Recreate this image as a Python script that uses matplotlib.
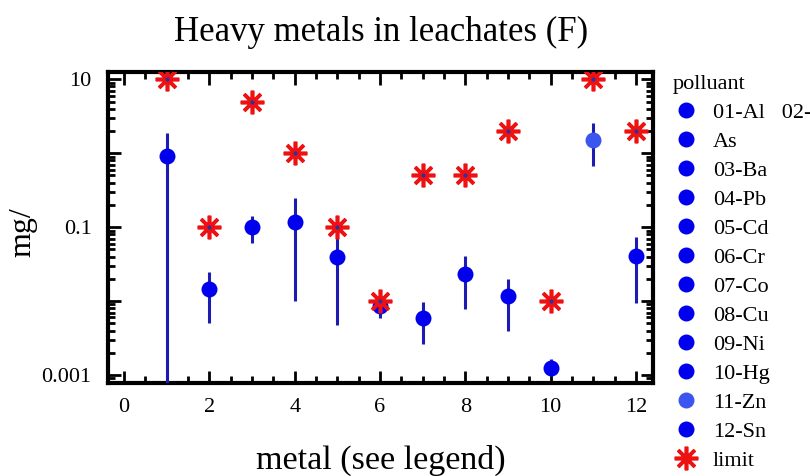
"""Heavy metals in leachates (F) - log scatter with error bars and limits."""
import numpy as np
import matplotlib
matplotlib.use("Agg")
import matplotlib.pyplot as plt
from matplotlib.lines import Line2D
from matplotlib.ticker import LogLocator, MultipleLocator, FixedLocator, NullFormatter

plt.rcParams["font.family"] = ["Liberation Serif", "DejaVu Serif"]

# data
metal = [1, 2, 3, 4, 5, 6, 7, 8, 9, 10, 11, 12]
labels = ["01-Al   02-", "As", "03-Ba", "04-Pb", "05-Cd", "06-Cr",
          "07-Co", "08-Cu", "09-Ni", "10-Hg", "11-Zn", "12-Sn"]
mean = [0.93, 0.0145, 0.099, 0.117, 0.039, 0.0085,
        0.0059, 0.023, 0.0117, 0.00126, 1.5, 0.041]
err_low = [0.0001, 0.005, 0.062, 0.010, 0.0047, 0.0059,
           0.0026, 0.0079, 0.004, 0.00098, 0.67, 0.0095]
err_high = [1.9, 0.025, 0.14, 0.25, 0.085, 0.012,
            0.0098, 0.041, 0.02, 0.00165, 2.6, 0.074]
limit = [10, 0.1, 5, 1.0, 0.1, 0.01, 0.5, 0.5, 2.0, 0.01, 10, 2.0]

dot_colors = ["#0000ee"] * 10 + ["#3b55ee", "#0000ee"]
STAR = (8, 2, 0)


def main():
    fig = plt.figure(figsize=(8.1, 4.76), dpi=100)
    ax = fig.add_axes([0.1337, 0.196, 0.6725, 0.653])

    handles = []
    for i in range(len(metal)):
        lo = mean[i] - err_low[i]
        hi = err_high[i] - mean[i]
        ax.errorbar([metal[i]], [mean[i]], yerr=[[lo], [hi]], fmt="o",
                    color=dot_colors[i], ecolor="#1c1cb4", elinewidth=2.2,
                    capsize=0, markersize=11.5, markeredgewidth=0, zorder=3)
        handles.append(Line2D([], [], linestyle="none", marker="o",
                              color=dot_colors[i], markersize=11.5,
                              markeredgewidth=0, label=labels[i]))

    ax.plot(metal, limit, linestyle="none", marker=STAR, color="#ee1111",
            markersize=17, markeredgewidth=2.6, zorder=4)
    ax.plot(metal, limit, linestyle="none", marker="o", color="#3030a0",
            markersize=2, zorder=5)
    handles.append(Line2D([], [], linestyle="none", marker=STAR,
                          color="#ee1111", markersize=17, markeredgewidth=2.6,
                          label="limit"))

    ax.set_yscale("log")
    ax.set_xlim(-0.37, 12.40)
    ax.set_ylim(0.000787, 12.6)

    ax.xaxis.set_major_locator(MultipleLocator(2))
    ax.xaxis.set_minor_locator(MultipleLocator(0.5))
    ax.yaxis.set_major_locator(FixedLocator([0.001, 0.01, 0.1, 1, 10]))
    ax.yaxis.set_minor_locator(LogLocator(base=10, subs=np.arange(2, 10), numticks=20))
    ax.yaxis.set_minor_formatter(NullFormatter())
    ax.set_yticklabels(["0.001", "", "0.1", "", "10"])

    ax.tick_params(which="both", direction="in", top=True, right=True,
                   labelsize=16, width=2)
    ax.tick_params(which="major", length=9)
    ax.tick_params(which="minor", length=5)
    ax.tick_params(axis="x", pad=11)
    ax.tick_params(axis="y", pad=12)
    for sp in ax.spines.values():
        sp.set_linewidth(3)

    ax.set_title("Heavy metals in leachates (F)", fontsize=25, pad=22)
    ax.set_xlabel("metal (see legend)", fontsize=24.5, labelpad=20)
    ax.set_ylabel("mg/", fontsize=23)
    ax.yaxis.set_label_coords(-0.130, 0.486)

    leg = ax.legend(handles=handles, loc="upper left",
                    bbox_to_anchor=(1.02, 1.018),
                    title="polluant", fontsize=16, title_fontsize=16,
                    frameon=False, labelspacing=0.38, handletextpad=0.6,
                    handlelength=1.2, borderaxespad=0)
    leg._legend_box.align = "left"

    fig.savefig("out.png", dpi=100)


if __name__ == "__main__":
    main()
